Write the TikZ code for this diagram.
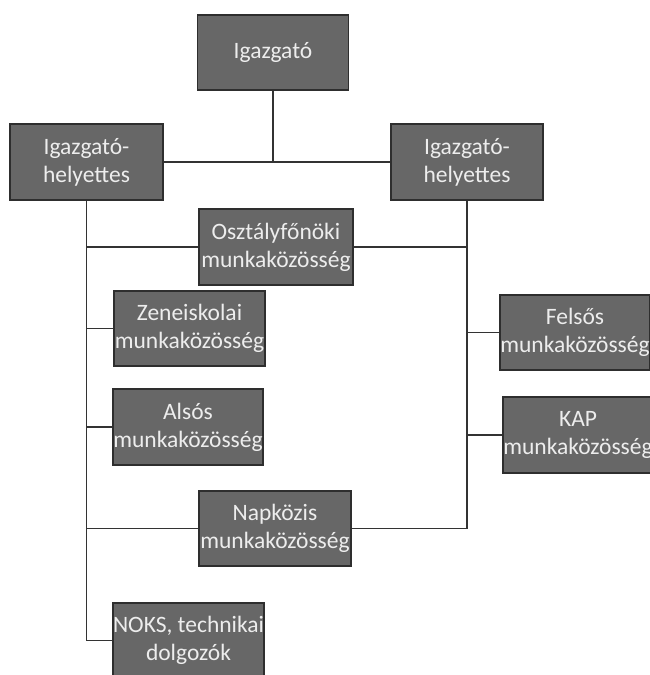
\documentclass[tikz,border=0pt]{standalone}
\usepackage{fontspec}
\setmainfont{Carlito}
\definecolor{boxfill}{HTML}{676767}
\definecolor{boxline}{HTML}{2E2E2E}
\definecolor{boxtext}{HTML}{EDEDED}
\definecolor{wire}{HTML}{333333}
\tikzset{
  orgbox/.style={draw=boxline, line width=1.4pt, fill=boxfill, text=boxtext,
    rectangle, align=center, inner sep=0pt,
    font=\fontsize{23.5}{28}\selectfont},
  wirel/.style={draw=wire, line width=1.5pt}
}
\begin{document}
\begin{tikzpicture}[x=1pt,y=-1pt]
\useasboundingbox (0,0) rectangle (650,675);
\clip (0,0) rectangle (650,675);
\node[orgbox, minimum width=151pt, minimum height=75pt] (dir) at (273,52.5) {Igazgató};
\node[orgbox, minimum width=153pt, minimum height=76pt] (ih1) at (86.5,162) {Igazgató-\\helyettes};
\node[orgbox, minimum width=152pt, minimum height=76pt] (ih2) at (467,162) {Igazgató-\\helyettes};
\node[orgbox, minimum width=154pt, minimum height=76pt] (osz) at (276,247) {Osztályfőnöki\\munkaközösség};
\node[orgbox, minimum width=151pt, minimum height=75pt] (zen) at (189.5,328.5) {Zeneiskolai\\munkaközösség};
\node[orgbox, minimum width=150pt, minimum height=76pt] (als) at (188,427) {Alsós\\munkaközösség};
\node[orgbox, minimum width=152pt, minimum height=75pt] (nap) at (275,528.5) {Napközis\\munkaközösség};
\node[orgbox, minimum width=151pt, minimum height=75pt] (noks) at (188.5,640.5) {NOKS, technikai\\dolgozók};
\node[orgbox, minimum width=150pt, minimum height=75pt] (fel) at (575,332.5) {Felsős\\munkaközösség};
\node[orgbox, minimum width=150pt, minimum height=76pt] (kap) at (578,435) {KAP\\munkaközösség};
% top connectors
\draw[wirel] (ih1.east) -- (ih2.west);
\draw[wirel] (dir.south) -- (dir.south |- ih1.east);
% left spine
\draw[wirel] (ih1.south) -- (ih1.south |- noks.west) -- (noks.west);
\draw[wirel] (ih1.south |- osz.west) -- (osz.west);
\draw[wirel] (ih1.south |- zen.west) -- (zen.west);
\draw[wirel] (ih1.south |- als.west) -- (als.west);
\draw[wirel] (ih1.south |- nap.west) -- (nap.west);
% right spine
\draw[wirel] (ih2.south) -- (ih2.south |- nap.east) -- (nap.east);
\draw[wirel] (osz.east) -- (ih2.south |- osz.east);
\draw[wirel] (ih2.south |- fel.west) -- (fel.west);
\draw[wirel] (ih2.south |- kap.west) -- (kap.west);
\end{tikzpicture}
\end{document}
